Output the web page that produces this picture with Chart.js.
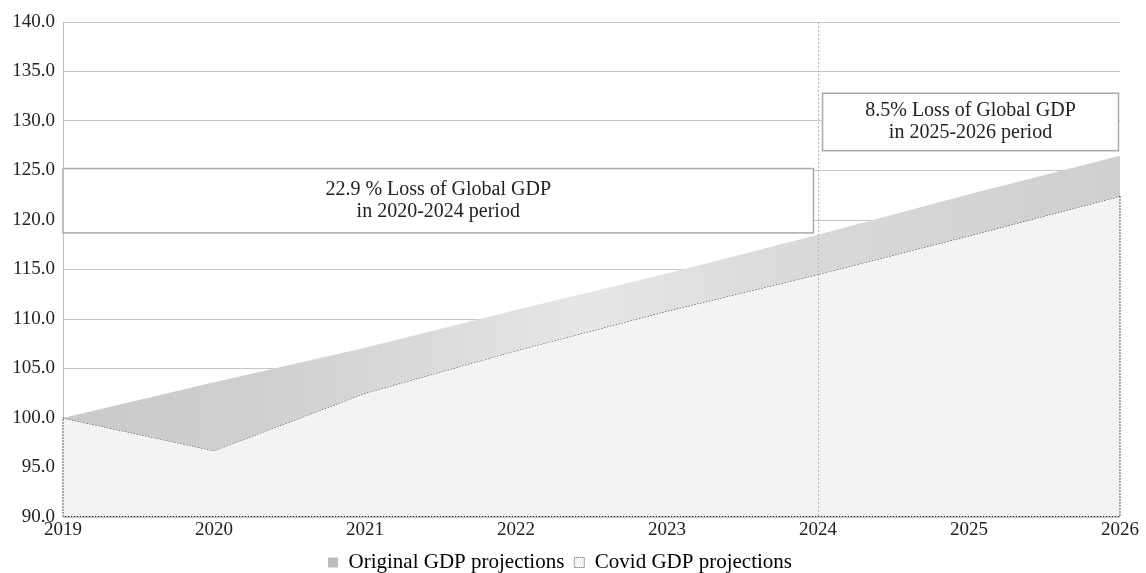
<!DOCTYPE html>
<html>
<head>
<meta charset="utf-8">
<script src="https://cdn.jsdelivr.net/npm/chart.js@4/dist/chart.umd.min.js"></script>
<style>
  html, body { margin: 0; padding: 0; background: #fff; }
  #wrap { width: 1146px; height: 573px; }
</style>
</head>
<body>
<div id="wrap"><canvas id="c" width="1146" height="573"></canvas></div>
<script>
const years = ['2019', '2020', '2021', '2022', '2023', '2024', '2025', '2026'];
const originalGDP = [100.0, 103.6, 107.1, 110.9, 114.6, 118.5, 122.6, 126.5];
const covidGDP = [100.0, 96.7, 102.5, 106.8, 110.8, 114.5, 118.4, 122.4];
const seriesNames = ['Original GDP projections', 'Covid GDP projections'];
const yTicks = { min: 90, max: 140, step: 5 };
const markerYearIndex = 5; // 2024
const notes = [
  { lines: ['22.9 % Loss of Global GDP', 'in 2020-2024 period'], x0: 0, x1: 4.97, y0: 118.7, y1: 125.2 },
  { lines: ['8.5% Loss of Global GDP', 'in 2025-2026 period'], x0: 5.03, x1: 6.99, y0: 127.0, y1: 132.8 }
];

const FONT = "'Times New Roman', 'Liberation Serif', 'Noto Serif', 'DejaVu Serif', serif";

function bandGradient(ctx) {
  const chart = ctx.chart;
  const area = chart.chartArea;
  if (!area) return '#d0d0d0';
  const g = chart.ctx.createLinearGradient(area.left, 0, area.right, 0);
  g.addColorStop(0, '#c9c9c9');
  g.addColorStop(0.2, '#d0d0d0');
  g.addColorStop(0.5, '#e6e6e6');
  g.addColorStop(0.72, '#d8d8d8');
  g.addColorStop(1, '#cfcfcf');
  return g;
}

const extrasPlugin = {
  id: 'extras',
  afterDatasetsDraw(chart) {
    const { ctx, chartArea: a, scales: { x, y } } = chart;
    ctx.save();
    ctx.strokeStyle = '#222';
    ctx.lineWidth = 1;
    ctx.setLineDash([1.5, 1.5]);
    ctx.beginPath();
    const lastI = covidGDP.length - 1;
    ctx.moveTo(x.getPixelForValue(lastI), y.getPixelForValue(covidGDP[lastI]));
    ctx.lineTo(x.getPixelForValue(lastI), a.bottom - 0.5);
    ctx.lineTo(x.getPixelForValue(0), a.bottom - 0.5);
    ctx.lineTo(x.getPixelForValue(0), y.getPixelForValue(covidGDP[0]));
    ctx.stroke();
    ctx.strokeStyle = '#b5b5b5';
    ctx.setLineDash([2, 2]);
    const mx = Math.round(x.getPixelForValue(markerYearIndex)) + 0.5;
    ctx.beginPath();
    ctx.moveTo(mx, a.top);
    ctx.lineTo(mx, a.bottom);
    ctx.stroke();
    ctx.setLineDash([]);
    notes.forEach(n => {
      const l = x.getPixelForValue(n.x0), r = x.getPixelForValue(n.x1);
      const t = y.getPixelForValue(n.y1), b = y.getPixelForValue(n.y0);
      ctx.fillStyle = '#ffffff';
      ctx.fillRect(l, t, r - l, b - t);
      ctx.strokeStyle = '#a9a9a9';
      ctx.lineWidth = 1.5;
      ctx.strokeRect(l, t, r - l, b - t);
      ctx.fillStyle = '#222';
      ctx.font = '20px ' + FONT;
      ctx.textAlign = 'center';
      ctx.textBaseline = 'middle';
      const cx = (l + r) / 2, cy = (t + b) / 2, lh = 22;
      n.lines.forEach((s, i) => {
        ctx.fillText(s, cx, cy + (i - (n.lines.length - 1) / 2) * lh);
      });
    });
    ctx.restore();
  }
};

new Chart(document.getElementById('c'), {
  type: 'line',
  data: {
    labels: years,
    datasets: [
      {
        label: seriesNames[0],
        data: originalGDP,
        borderWidth: 0,
        borderColor: 'rgba(0,0,0,0)',
        backgroundColor: bandGradient,
        fill: '+1',
        pointRadius: 0,
        tension: 0
      },
      {
        label: seriesNames[1],
        data: covidGDP,
        borderWidth: 1,
        borderColor: '#222',
        borderDash: [1.5, 1.5],
        backgroundColor: '#f3f3f3',
        fill: 'start',
        pointRadius: 0,
        tension: 0
      }
    ]
  },
  options: {
    responsive: false,
    animation: false,
    events: [],
    layout: { padding: { left: 0, right: 26, top: 22, bottom: -10 } },
    plugins: {
      tooltip: { enabled: false },
      legend: {
        position: 'bottom',
        labels: {
          font: { family: FONT, size: 21 },
          color: '#222',
          boxWidth: 10,
          boxHeight: 10,
          padding: 10,
          generateLabels() {
            return [
              { text: seriesNames[0], fillStyle: '#bdbdbd', strokeStyle: '#bdbdbd', lineWidth: 0, datasetIndex: 0 },
              { text: seriesNames[1], fillStyle: '#f5f5f5', strokeStyle: '#555', lineWidth: 1, lineDash: [1, 1], datasetIndex: 1 }
            ];
          }
        }
      }
    },
    scales: {
      x: {
        offset: false,
        grid: { display: false, drawTicks: false },
        border: { display: false },
        ticks: { font: { family: FONT, size: 19 }, color: '#222', maxRotation: 0, padding: 2 },
        afterFit(s) { s.height = 25; }
      },
      y: {
        min: yTicks.min,
        max: yTicks.max,
        ticks: {
          stepSize: yTicks.step,
          font: { family: FONT, size: 19 },
          color: '#222',
          padding: 8,
          callback: v => Number(v).toFixed(1)
        },
        grid: { color: '#c6c6c6', lineWidth: 1, drawTicks: false },
        border: { display: true, color: '#bdbdbd', width: 1 },
        afterFit(s) { s.width = 63; }
      }
    }
  },
  plugins: [extrasPlugin]
});
</script>
</body>
</html>
